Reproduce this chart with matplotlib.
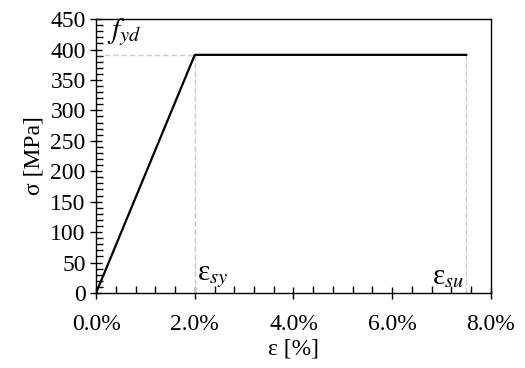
import matplotlib
matplotlib.use("Agg")
import matplotlib.pyplot as plt
from matplotlib.ticker import MultipleLocator, FuncFormatter

strain = [0.0, 2.0, 7.5]        # %
stress = [0.0, 391.3, 391.3]    # MPa
fyd = 391.3
eps_sy = 2.0
eps_su = 7.5

plt.rcParams['font.family'] = ['Liberation Serif', 'DejaVu Serif']
plt.rcParams['mathtext.fontset'] = 'stix'

fig = plt.figure(figsize=(5.25, 3.68), dpi=100)
ax = fig.add_axes([0.183, 0.204, 0.752, 0.744])

ax.plot([0, eps_sy], [fyd, fyd], color='#c8c8c8', lw=1.0, ls=(0, (4, 2)))
ax.plot([eps_sy, eps_sy], [0, fyd], color='#c8c8c8', lw=1.0, ls=(0, (4, 2)))
ax.plot([eps_su, eps_su], [0, fyd], color='#c8c8c8', lw=1.0, ls=(0, (4, 2)))
ax.plot(strain, stress, color='black', lw=1.6)

ax.set_xlim(0, 8)
ax.set_ylim(0, 450)
ax.xaxis.set_major_locator(MultipleLocator(2))
ax.xaxis.set_minor_locator(MultipleLocator(0.4))
ax.yaxis.set_major_locator(MultipleLocator(50))
ax.yaxis.set_minor_locator(MultipleLocator(10))
ax.xaxis.set_major_formatter(FuncFormatter(lambda v, p: f"{v:.1f}%"))
ax.tick_params(which='major', direction='inout', length=9, width=1, labelsize=17, pad=3)
ax.tick_params(which='minor', direction='in', length=5, width=1)
ax.tick_params(axis='x', which='major', pad=11)
for s in ax.spines.values():
    s.set_linewidth(1.0)

ax.set_xlabel('ε [%]', fontsize=17, labelpad=2)
ax.set_ylabel('σ [MPa]', fontsize=17, labelpad=4)

ax.text(0.22, 403, r'$f_{yd}$', fontsize=21, ha='left', va='bottom')
ax.text(eps_sy + 0.05, 5, r'ε$_{sy}$', fontsize=21, ha='left', va='bottom')
ax.text(eps_su - 0.03, 5, r'ε$_{su}$', fontsize=21, ha='right', va='bottom')

fig.savefig('out.png', dpi=100)
